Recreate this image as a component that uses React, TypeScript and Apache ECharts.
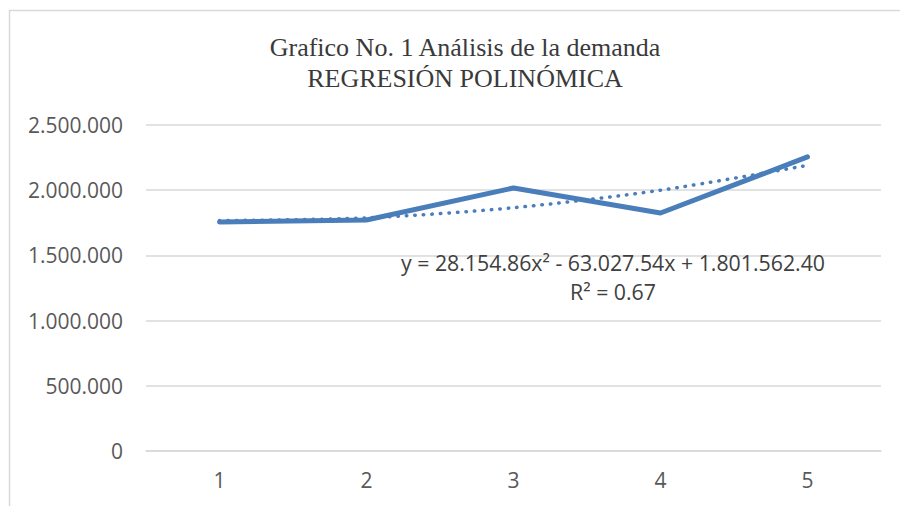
import React, { useEffect, useRef } from "react";
import * as echarts from "echarts";

const categories = ["1", "2", "3", "4", "5"];
const demand = [1756000, 1771000, 2017000, 1825000, 2255000];
const trend = [1766690, 1788127, 1865874, 1999930, 2190296];
const yTicks = [0, 500000, 1000000, 1500000, 2000000, 2500000];
const titleLines = ["Grafico No. 1 Análisis de la demanda", "REGRESIÓN POLINÓMICA"];
const equation = "y = 28.154.86x² - 63.027.54x + 1.801.562.40";
const rSquared = "R² = 0.67";

const fmt = (v: number) => String(Math.round(v)).replace(/\B(?=(\d{3})+(?!\d))/g, ".");

export default function App() {
  const ref = useRef<HTMLDivElement>(null);
  useEffect(() => {
    if (!ref.current) return;
    const chart = echarts.init(ref.current, null, { renderer: "svg" });
    const blue = "#4a7ebb";
    chart.setOption({
      animation: false,
      backgroundColor: "#ffffff",
      title: {
        text: titleLines.join("\n"),
        left: 460,
        top: 27,
        textAlign: "center",
        textStyle: {
          fontFamily: "'Liberation Serif', 'Times New Roman', serif",
          fontWeight: "normal",
          fontSize: 26,
          lineHeight: 31,
          color: "#3a3a3a",
        },
      },
      graphic: [
        {
          type: "rect",
          shape: { x: 9.5, y: 10.5, width: 1000, height: 1000 },
          style: { fill: "none", stroke: "#d9d9d9", lineWidth: 1.5 },
          silent: true,
          z: -1,
        },
        {
          type: "text",
          x: 613,
          y: 262,
          style: {
            text: equation,
            fontFamily: "'Open Sans', sans-serif",
            fontSize: 21.3,
            fill: "#404040",
            align: "center",
            verticalAlign: "middle",
          },
          z: 10,
        },
        {
          type: "text",
          x: 613,
          y: 291,
          style: {
            text: rSquared,
            fontFamily: "'Open Sans', sans-serif",
            fontSize: 21.3,
            fill: "#404040",
            align: "center",
            verticalAlign: "middle",
          },
          z: 10,
        },
      ],
      grid: { left: 146, right: 19, top: 125, bottom: 55 },
      xAxis: {
        type: "category",
        data: categories,
        boundaryGap: true,
        axisLine: { show: true, lineStyle: { color: "#d9d9d9", width: 1.5 } },
        axisTick: { show: false },
        axisLabel: {
          margin: 18,
          fontFamily: "'Open Sans', sans-serif",
          fontSize: 21,
          color: "#595959",
        },
      },
      yAxis: {
        type: "value",
        min: yTicks[0],
        max: yTicks[yTicks.length - 1],
        interval: 500000,
        axisLine: { show: false },
        axisTick: { show: false },
        splitLine: { lineStyle: { color: "#d9d9d9", width: 1.5 } },
        axisLabel: {
          margin: 23,
          fontFamily: "'Open Sans', sans-serif",
          fontSize: 21,
          color: "#595959",
          formatter: (v: number) => fmt(v),
        },
      },
      series: [
        {
          type: "line",
          data: trend,
          smooth: 0.3,
          symbol: "none",
          lineStyle: { color: blue, width: 3.5, type: [0.5, 8], cap: "round" },
          z: 3,
        },
        {
          type: "line",
          data: demand,
          symbol: "none",
          lineStyle: { color: blue, width: 5, cap: "round", join: "round" },
          z: 2,
        },
      ],
    });
    return () => chart.dispose();
  }, []);
  return (
    <div
      ref={ref}
      style={{ position: "fixed", left: 0, top: 0, width: 900, height: 506 }}
    />
  );
}
